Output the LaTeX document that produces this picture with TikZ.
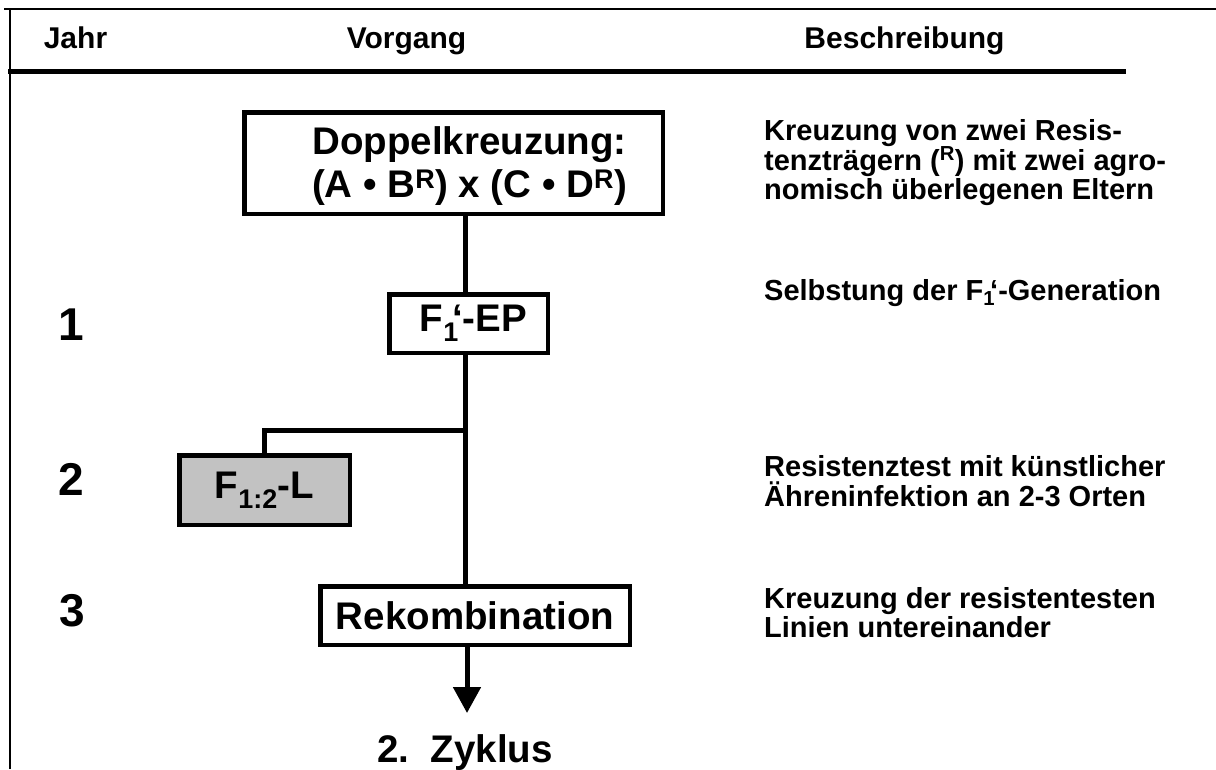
\documentclass[tikz,border=0pt]{standalone}
\usepackage{fontspec}
\usepackage{graphicx}
\setmainfont{Liberation Sans}
\usetikzlibrary{arrows.meta}
\newcommand{\Fone}{F\textsubscript{1}\kern-0.17em‘}
\begin{document}
\begin{tikzpicture}[x=1pt,y=-1pt,
  box/.style={draw, line width=4.5pt, inner sep=0pt, align=center, font=\fontsize{38.5}{43}\selectfont\bfseries},
  conn/.style={line width=5pt},
  frameline/.style={line width=2.5pt},
  hdr/.style={anchor=base, inner sep=0pt, font=\fontsize{30}{34}\selectfont\bfseries},
  yr/.style={anchor=base, inner sep=0pt, font=\fontsize{46}{50}\selectfont\bfseries},
  desc/.style={anchor=base west, inner sep=0pt, font=\fontsize{29}{30}\selectfont\bfseries},
  big/.style={anchor=base, inner sep=0pt, font=\fontsize{38.5}{42}\selectfont\bfseries}]
\useasboundingbox (0,0) rectangle (1216,769);
% frame
\coordinate (fbl) at (10,769);
\coordinate (ftl) at (10,9);
\coordinate (ftl2) at (4,9);
\coordinate (ftr) at (1216,9);
\draw[frameline] (fbl) -- (ftl);
\draw[frameline] (ftl2) -- (ftr);
\coordinate (hl) at (8,71.5);
\coordinate (hr) at (1126,71.5);
\draw[conn] (hl) -- (hr);
% headers
\node[hdr] (hjahr) at (75.5,48) {Jahr};
\node[hdr] (hvorg) at (406.5,48) {Vorgang};
\node[hdr] (hbesch) at (904.5,48) {Beschreibung};
% years
\node[yr] (y1) at (71,340) {1};
\node[yr] (y2) at (71,495) {2};
\node[yr] (y3) at (72,626) {3};
% boxes
\node[box, minimum width=418.5pt, minimum height=101.5pt] (dk) at (453.5,163)
  {\hspace*{32pt}\raisebox{-4pt}[\height][\depth]{\begin{tabular}{@{}c@{}}Doppelkreuzung:\\(A • B\textsuperscript{R}) x (C • D\textsuperscript{R})\end{tabular}}};
\node[box, minimum width=158.5pt, minimum height=58.5pt] (f1) at (468.5,323.5)
  {\hspace*{10pt}\Fone-EP};
\node[box, fill=black!24, minimum width=170.5pt, minimum height=69.5pt] (f12) at (264.5,490)
  {F\textsubscript{1:2}-L};
\node[box, minimum width=309.5pt, minimum height=58.5pt] (rk) at (475,615.5)
  {Rekombination};
\node[big] (zy) at (465,762) {2.\ \ Zyklus};
% connectors
\coordinate (j) at (465,430);
\coordinate (tip) at (467,713);
\draw[conn] (dk.south -| j) -- (f1.north -| j);
\draw[conn] (f1.south -| j) -- (rk.north -| j);
\draw[conn] (j) -| (f12.north);
\draw[conn, -{Triangle[width=27pt,length=26pt]}] (rk.south -| tip) -- (tip);
% descriptions
\node[desc] (d1a) at (764,140) {Kreuzung von zwei Resis-};
\node[desc] (d1b) at (764,170) {tenzträgern (\textsuperscript{R}) mit zwei agro-};
\node[desc] (d1c) at (764,199) {nomisch überlegenen Eltern};
\node[desc] (d2) at (764,300) {Selbstung der \Fone-Generation};
\node[desc] (d3a) at (764,476) {Resistenztest mit künstlicher};
\node[desc] (d3b) at (764,506) {Ähreninfektion an 2-3 Orten};
\node[desc] (d4a) at (764,608) {Kreuzung der resistentesten};
\node[desc] (d4b) at (764,637) {Linien untereinander};
\end{tikzpicture}
\end{document}
